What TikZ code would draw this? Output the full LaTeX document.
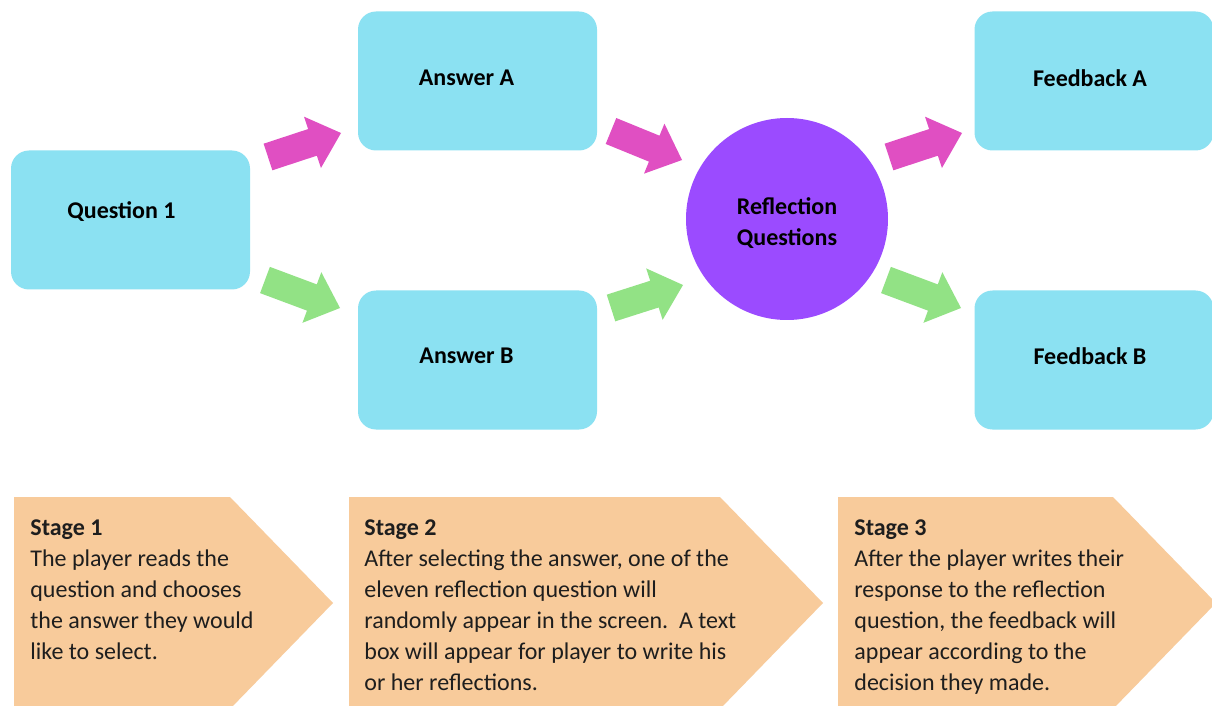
\documentclass[tikz,border=0pt]{standalone}
\usepackage{fontspec}
\setmainfont{Carlito}
\usetikzlibrary{calc}
\definecolor{boxcyan}{HTML}{8BE1F2}
\definecolor{arrpink}{HTML}{E04FC2}
\definecolor{arrgreen}{HTML}{92E285}
\definecolor{circpurple}{HTML}{9B4BFF}
\definecolor{stagepeach}{HTML}{F8CB9B}
\definecolor{stagetext}{HTML}{1E1E1E}
\tikzset{
  cbox/.style={draw=none, fill=boxcyan, rounded corners=9pt, minimum width=119.5pt, minimum height=69.5pt, inner sep=0pt},
  blabel/.style={font=\fontsize{12pt}{15.5pt}\selectfont\bfseries, text=black},
  stagebox/.style={fill=stagepeach, draw=none},
  stagetxt/.style={anchor=north west, align=left, inner sep=0pt, text=stagetext, font=\fontsize{12pt}{15.5pt}\selectfont},
}
\newcommand{\blockarrow}[3]{%
  \fill[#1] ($(#2)!7pt!90:(#3)$) -- ($($(#3)!15pt!(#2)$)!7pt!-90:(#3)$) --
    ($($(#3)!15pt!(#2)$)!13.5pt!-90:(#3)$) -- (#3) --
    ($($(#3)!15pt!(#2)$)!13.5pt!90:(#3)$) -- ($($(#3)!15pt!(#2)$)!7pt!90:(#3)$) --
    ($(#2)!7pt!-90:(#3)$) -- cycle;}
\newcommand{\blockarrowB}[3]{%
  \fill[#1] ($(#2)!7pt!90:(#3)$) -- ($($(#3)!15pt!(#2)$)!7pt!-90:(#2)$) --
    ($($(#3)!15pt!(#2)$)!13.5pt!-90:(#2)$) -- (#3) --
    ($($(#3)!15pt!(#2)$)!13.5pt!90:(#2)$) -- ($($(#3)!15pt!(#2)$)!7pt!90:(#2)$) --
    ($(#2)!7pt!-90:(#3)$) -- cycle;}
\begin{document}
\begin{tikzpicture}[x=0.5pt, y=-0.5pt]
\useasboundingbox (0,0) rectangle (1212,706);
\fill[white] (0,0) rectangle (1212,706);

% boxes
\node[cbox, label={[blabel, xshift=-4.5pt, yshift=4pt]center:Question 1}] (q1) at (130.5,220) {};
\node[cbox, label={[blabel, xshift=-5.5pt, yshift=1.5pt]center:Answer A}] (ansA) at (477.5,81) {};
\node[cbox, label={[blabel, xshift=-5.5pt, yshift=2pt]center:Answer B}] (ansB) at (477.5,360) {};
\node[cbox, label={[blabel, xshift=-2pt, yshift=1.5pt]center:Feedback A}] (fbA) at (1094,81) {};
\node[cbox, label={[blabel, xshift=-2pt, yshift=2pt]center:Feedback B}] (fbB) at (1094,360) {};
\node[circle, fill=circpurple, minimum size=101pt, inner sep=0pt] (refl) at (787,219) {};
\node[blabel, align=center] (refltxt) at (787,223) {Reflection\\Questions};

% block arrows
\coordinate (p1t) at (268,157); \coordinate (p1h) at (341,133);
\coordinate (g1t) at (265,280); \coordinate (g1h) at (340,308);
\coordinate (p2t) at (611,131); \coordinate (p2h) at (682,160);
\coordinate (g2t) at (611,308); \coordinate (g2h) at (683,285);
\coordinate (p3t) at (889,157); \coordinate (p3h) at (962,133);
\coordinate (g3t) at (886,280); \coordinate (g3h) at (961,308);
\blockarrowB{arrpink}{p1t}{p1h}
\blockarrowB{arrgreen}{g1t}{g1h}
\blockarrowB{arrpink}{p2t}{p2h}
\blockarrowB{arrgreen}{g2t}{g2h}
\blockarrowB{arrpink}{p3t}{p3h}
\blockarrowB{arrgreen}{g3t}{g3h}

% stage chevrons
\fill[stagebox] (14,497) -- (230,497) -- (333,603) -- (230,709) -- (14,709) -- cycle;
\fill[stagebox] (349,497) -- (720,497) -- (823,603) -- (720,709) -- (349,709) -- cycle;
\fill[stagebox] (838,497) -- (1113,497) -- (1216,603) -- (1113,709) -- (838,709) -- cycle;

\node[stagetxt] (s1) at (30,519) {\textbf{Stage 1}\\The player reads the\\question and chooses\\the answer they would\\like to select.};
\node[stagetxt] (s2) at (364,519) {\textbf{Stage 2}\\After selecting the answer, one of the\\eleven reflection question will\\randomly appear in the screen.\ \ A text\\box will appear for player to write his\\or her reflections.};
\node[stagetxt] (s3) at (854,519) {\textbf{Stage 3}\\After the player writes their\\response to the reflection\\question, the feedback will\\appear according to the\\decision they made.};
\end{tikzpicture}
\end{document}
